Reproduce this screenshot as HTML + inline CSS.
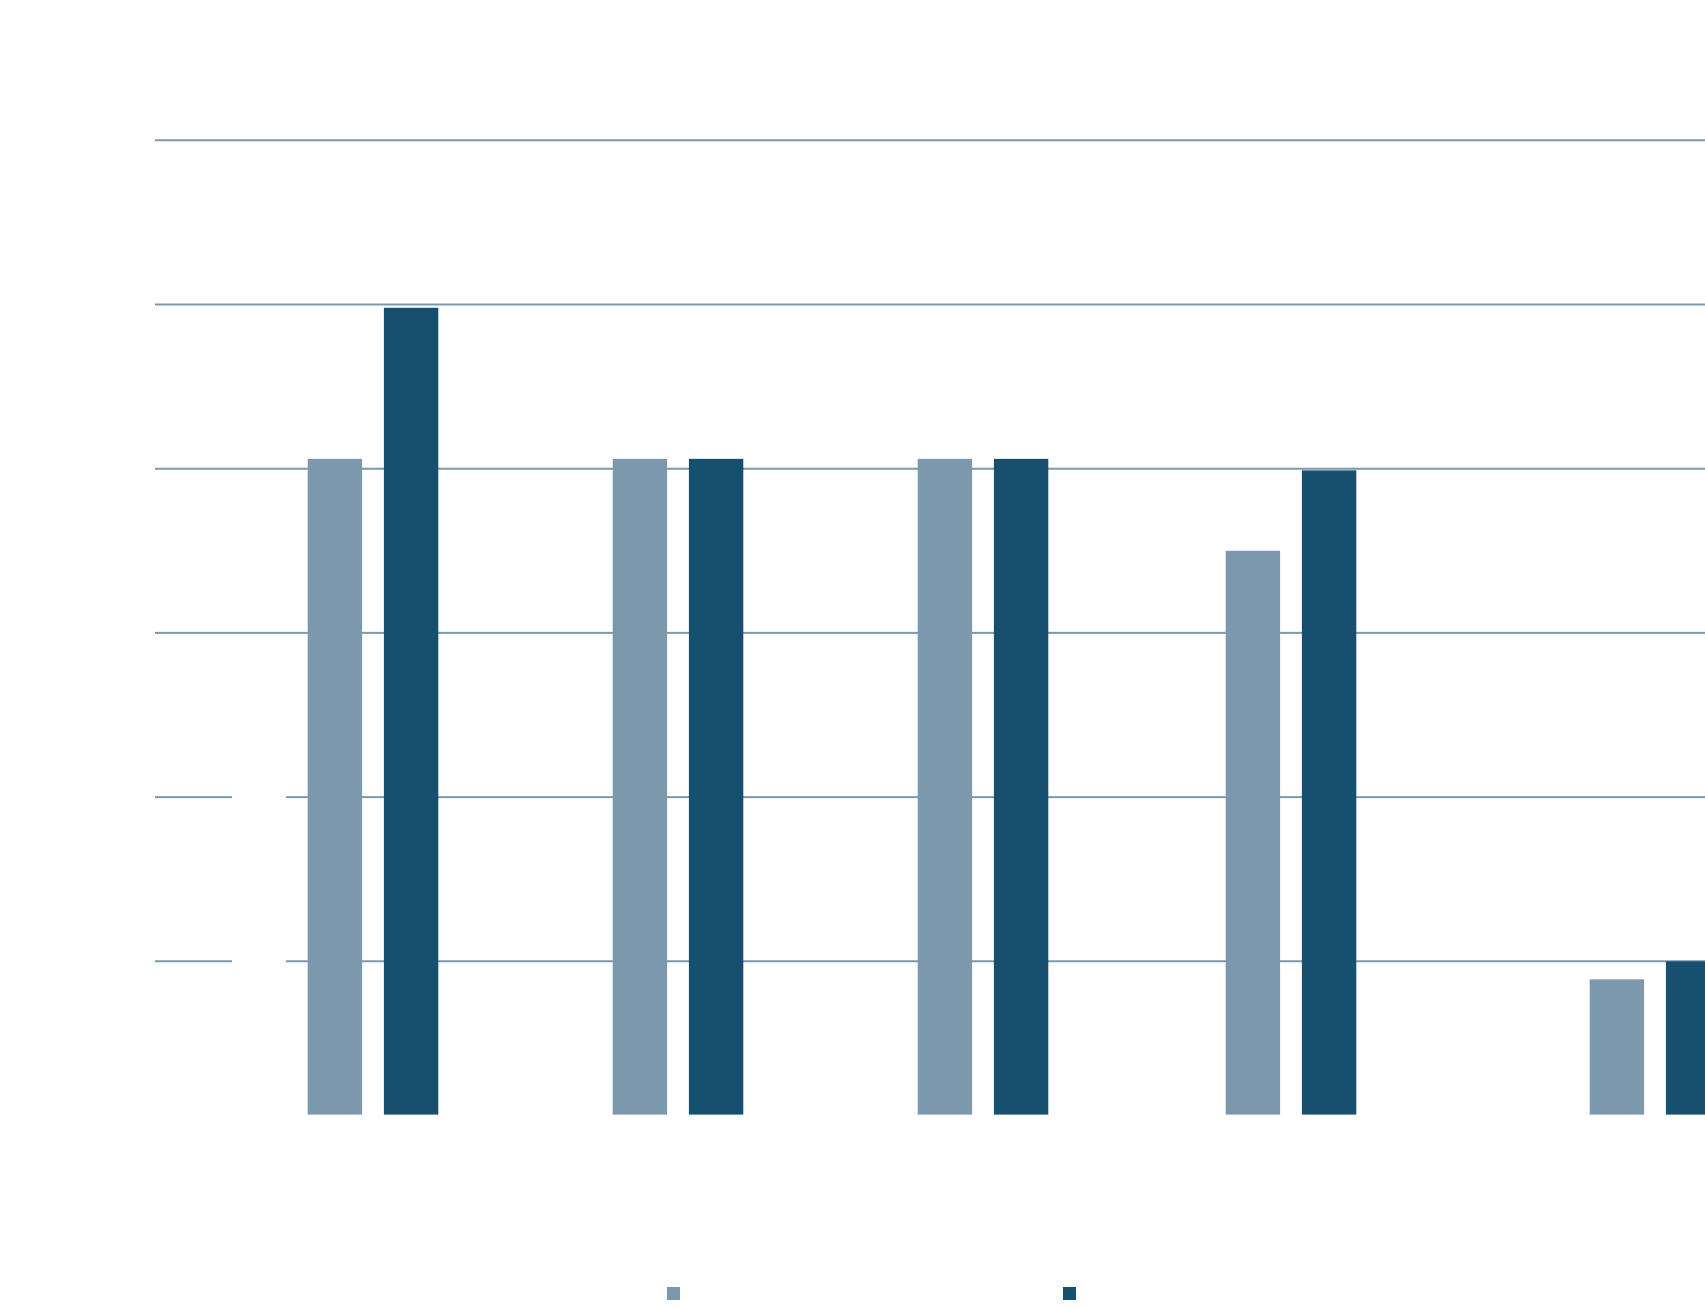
<!DOCTYPE html>
<html><head><meta charset="utf-8"><style>
html,body{margin:0;padding:0;background:#fff;}
svg{display:block;font-family:"Liberation Sans",sans-serif;}
</style></head><body>
<svg id="chart" width="1705" height="1308" viewBox="0 0 1705 1308" xmlns="http://www.w3.org/2000/svg">
<g id="grid"></g>
<g id="bars"></g>
<g id="legend">
<rect x="667" y="1287" width="13" height="13" fill="#7b98ad"/>
<rect x="1063" y="1287" width="13" height="13" fill="#17506e"/>
</g>
</svg>
<script>
const categories = ["A","B","C","D","E"];
const series1 = [4.06, 4.06, 4.06, 3.5, 0.89];
const series2 = [4.98, 4.06, 4.06, 3.99, 1.0];
const gridValues = [1, 2, 3, 4, 5, 6];

const NS = "http://www.w3.org/2000/svg";
const y = v => 1125.5 - v * 164.2;
const baseY = 1114.6;
const xCenters = [373, 678, 983, 1291, 1655];
const barW = 54.4, gap = 21.8;

const grid = document.getElementById('grid');
gridValues.forEach((g, i) => {
  const yy = y(g);
  const segs = (g <= 2) ? [[155, 232], [286, 1705]] : [[155, 1705]];
  segs.forEach(s => {
    const l = document.createElementNS(NS, 'line');
    
    
    l.setAttribute('x1', s[0]); l.setAttribute('x2', s[1]);
    l.setAttribute('y1', yy); l.setAttribute('y2', yy);
    l.setAttribute('stroke', '#7b98ad'); l.setAttribute('stroke-width', '2');
    grid.appendChild(l);
  });
});

const bars = document.getElementById('bars');
categories.forEach((c, i) => {
  [[series1, '#7b98ad', -1], [series2, '#17506e', 1]].forEach(([arr, col, side], k) => {
    const r = document.createElementNS(NS, 'rect');
    
    
    const x = side < 0 ? xCenters[i] - gap / 2 - barW : xCenters[i] + gap / 2;
    const top = y(arr[i]);
    r.setAttribute('x', x); r.setAttribute('width', barW);
    r.setAttribute('y', top); r.setAttribute('height', baseY - top);
    r.setAttribute('fill', col);
    bars.appendChild(r);
  });
});
</script>
</body></html>
